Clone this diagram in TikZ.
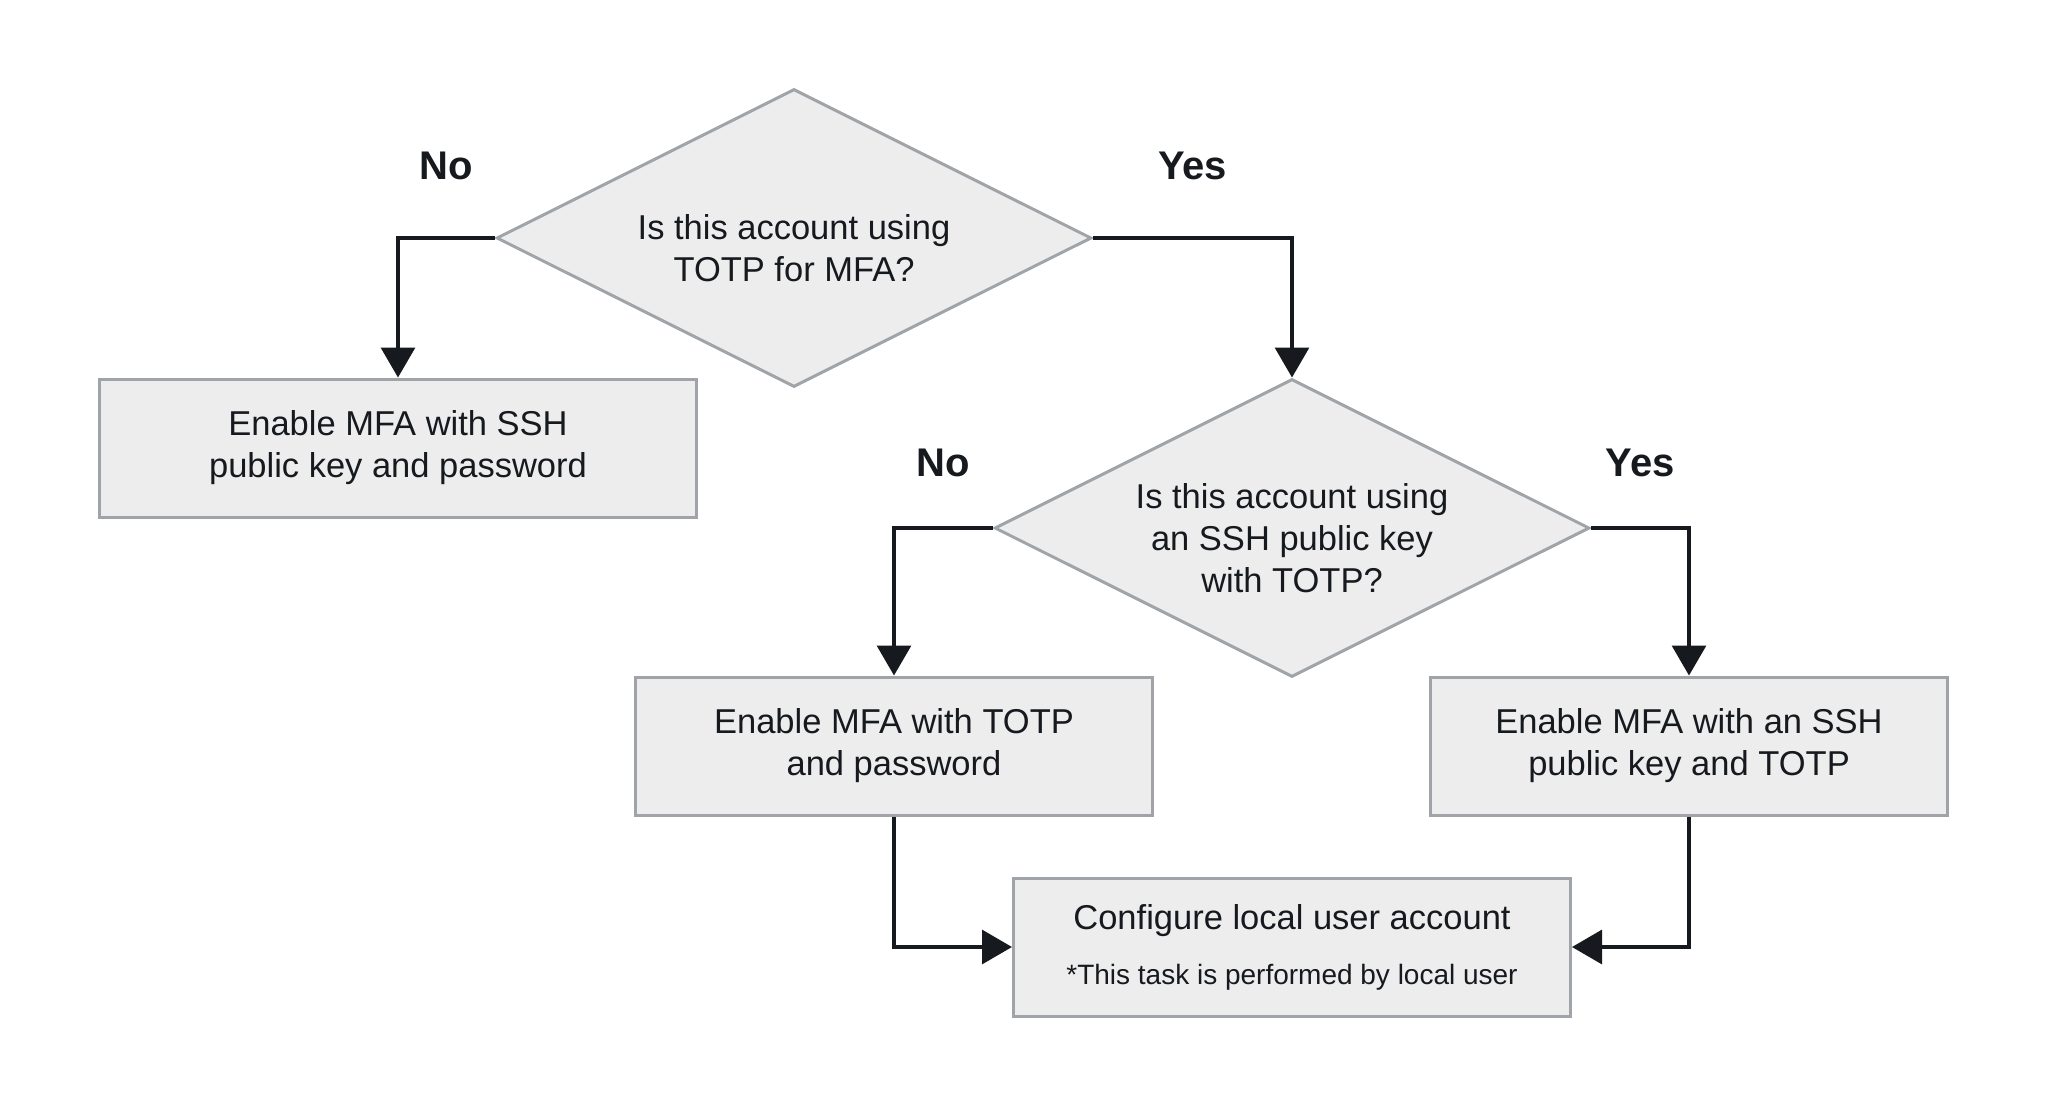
\documentclass[tikz,border=0pt]{standalone}
\usepackage{fontspec}
\setmainfont{Liberation Sans}
\usepackage{xcolor}
\usetikzlibrary{shapes.geometric, arrows.meta, positioning}
\definecolor{flowfill}{RGB}{237,237,237}
\definecolor{flowedge}{RGB}{160,164,168}
\definecolor{flowink}{RGB}{22,25,30}

\begin{document}
\begin{tikzpicture}[
    x=1pt, y=-1pt,
    question/.style={diamond, draw=flowedge, fill=flowfill, line width=3pt, minimum width=595pt, minimum height=298pt, inner sep=0pt},
    asktext/.style={align=center, inner sep=0pt, text=flowink, font=\fontsize{34.5}{42}\selectfont},
    action/.style={rectangle, draw=flowedge, fill=flowfill, line width=3pt, minimum height=138pt, align=center, text=flowink, font=\fontsize{34.5}{42}\selectfont},
    answer/.style={inner sep=0pt, text=flowink, font=\fontsize{40}{48}\selectfont\bfseries},
    arrow/.style={-{Triangle[length=30pt, width=34pt]}, line width=3.2pt, draw=flowink}
]
\useasboundingbox (0,0) rectangle (2048,1114);

% Questions
\node[question, label={[asktext, yshift=-10pt]center:Is this account using\\TOTP for MFA?}] (totp) at (794,238) {};
\node[question, label={[asktext, yshift=-10pt]center:Is this account using\\an SSH public key\\with TOTP?}] (sshkey) at (1292,528) {};

% Actions
\node[action, minimum width=597pt] (pwdssh) at (398,448) {Enable MFA with SSH\\public key and password};
\node[action, minimum width=517pt] (pwdtotp) at (894,746) {Enable MFA with TOTP\\and password};
\node[action, minimum width=517pt, right=275pt of pwdtotp] (sshtotp) {Enable MFA with an SSH\\public key and TOTP};
\node[action, minimum width=557pt] (local) at (1292,947) {Configure local user account\\[13pt]{\fontsize{28}{34}\selectfont *This task is performed by local user}};

% Arrows
\draw[arrow] (totp.west) -| node[answer, pos=0.25, above=57pt] {No} (pwdssh.north);
\draw[arrow] (totp.east) -| node[answer, pos=0.25, above=57pt] {Yes} (sshkey.north);
\draw[arrow] (sshkey.west) -| node[answer, pos=0.25, above=50pt] {No} (pwdtotp.north);
\draw[arrow] (sshkey.east) -| node[answer, pos=0.25, above=50pt] {Yes} (sshtotp.north);
\draw[arrow] (pwdtotp.south) |- (local.west);
\draw[arrow] (sshtotp.south) |- (local.east);

\end{tikzpicture}
\end{document}
